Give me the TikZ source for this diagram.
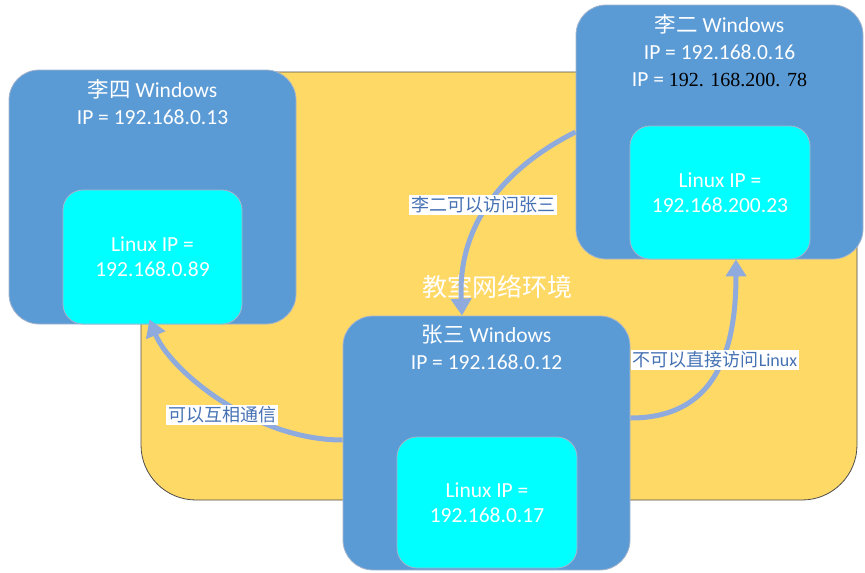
\documentclass[tikz,border=0pt]{standalone}
\usepackage{fontspec}
\setmainfont{Carlito}
\newfontfamily\cjk{Noto Sans CJK SC}
\newfontfamily\numserif{Liberation Serif}
\usetikzlibrary{arrows.meta,positioning,calc}
\definecolor{netyellow}{RGB}{255,217,102}
\definecolor{winblue}{RGB}{91,155,213}
\definecolor{linuxcyan}{RGB}{0,255,255}
\definecolor{linkblue}{RGB}{143,170,220}
\definecolor{labelblue}{RGB}{70,114,180}
\definecolor{boxedge}{RGB}{165,180,205}
\tikzset{
  net/.style={draw=black!70, line width=0.8pt, fill=netyellow, rounded corners=55pt},
  winbox/.style={draw=boxedge, line width=0.8pt, fill=winblue, rounded corners=30pt, minimum width=287pt, minimum height=254pt, inner sep=0pt},
  linuxbox/.style={draw=boxedge, line width=0.8pt, fill=linuxcyan, rounded corners=20pt, minimum width=180pt, minimum height=133pt, text=white, align=center, font=\fontsize{21.5}{25}\selectfont},
  wintext/.style={text=white, align=center, font=\fontsize{21.5}{27}\selectfont},
  link/.style={-{Triangle[width=20pt,length=17pt]}, line width=5pt, linkblue},
  linklabel/.style={fill=white, text=labelblue, inner sep=2pt, font=\fontsize{18}{20}\selectfont\cjk}
}

\begin{document}
\begin{tikzpicture}[x=1pt,y=-1pt]
  \useasboundingbox (0,0) rectangle (865,573);
  \draw[net] (141,72) rectangle (857,500);
  \node[winbox] (li4) at (152.5,197) {};
  \node[linuxbox, minimum width=179pt, minimum height=134pt] (li4in) at (152.5,257) {Linux IP =\\192.168.0.89};
  \node[wintext] (li4t) at (152.5,102) {{\cjk 李四} Windows\\IP = 192.168.0.13};
  \node[winbox] (li2) at (719.5,132) {};
  \node[linuxbox] (li2in) at (720,192.5) {Linux IP =\\192.168.200.23};
  \node[wintext] (li2t) at (719.5,50.5) {{\cjk 李二} Windows\\IP = 192.168.0.16\\IP = {\numserif\fontsize{20}{27}\selectfont\color{black}192. 168.200. 78}};
  \node[winbox] (zs) at (486.5,443) {};
  \node[linuxbox, minimum height=131pt] (zsin) at (487,502.5) {Linux IP =\\192.168.0.17};
  \node[wintext] (zst) at (486.5,347.5) {{\cjk 张三} Windows\\IP = 192.168.0.12};
  \node[text=white, font=\fontsize{25}{30}\selectfont\cjk] (room) at (497,287) {教室网络环境};
  \draw[link] (li2.west) .. controls +(-60,30) and +(-5,-100) .. ([xshift=-24.5pt]zs.north);
  \draw[link] ([yshift=25pt]zs.east) .. controls +(80,0) and +(0,100) .. ([xshift=16pt]li2in.south);
  \draw[link] ([yshift=3pt]zs.west) .. controls +(-90,0) and +(20,50) .. ([xshift=-3pt,yshift=5pt]li4in.south);
  \node[linklabel] (l1) at (483,205) {李二可以访问张三};
  \node[linklabel] (l2) at (715,360) {不可以直接访问{\rmfamily Linux}};
  \node[linklabel] (l3) at (222,415) {可以互相通信};
\end{tikzpicture}
\end{document}
